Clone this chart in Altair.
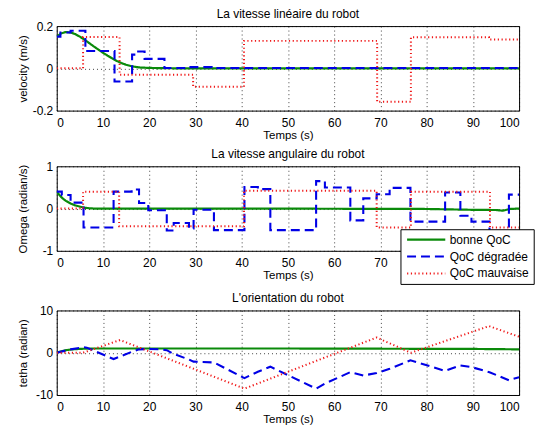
import altair as alt
import pandas as pd

SERIES = ["bonne QoC", "QoC dégradée", "QoC mauvaise"]
COLORS = ["#0a8a0a", "#0000e6", "#f01818"]
DASHES = [[1, 0], [9, 5], [1.2, 2.6]]
WIDTHS = [2.2, 2.0, 1.2]

X_TICKS = list(range(0, 101, 10))

# ---- Vitesse linéaire ----
v_green_t = [0, 1, 2, 3, 4, 5, 6, 7, 8, 9, 10, 11, 12, 13, 14, 15, 16, 17, 18, 20, 23, 26, 100]
v_green_v = [0.150, 0.166, 0.172, 0.170, 0.162, 0.150, 0.136, 0.120, 0.104, 0.089, 0.074, 0.060,
             0.047, 0.035, 0.025, 0.017, 0.011, 0.007, 0.004, 0.002, 0.001, 0.0, 0.0]
v_blue_t = [0, 0.8, 3.0, 6.2, 12.5, 16.3, 17.2, 19.0, 23.3, 28.5, 33.5, 100]
v_blue_v = [0.150, 0.170, 0.178, 0.082, -0.062, 0.065, 0.080, 0.045, 0.002, 0.006, 0.002, 0.002]
v_red_t = [0, 5.7, 13.6, 29.5, 40.5, 69.3, 76.6, 93.5, 100]
v_red_v = [0.0, 0.148, -0.030, -0.087, 0.130, -0.158, 0.147, 0.137, 0.137]

# ---- Vitesse angulaire ----
w_green_t = [0, 0.5, 1, 1.5, 2, 3, 4, 5, 6, 7, 8, 40, 60, 80, 85, 90, 95, 96.5, 98, 100]
w_green_v = [0.40, 0.33, 0.27, 0.22, 0.18, 0.12, 0.075, 0.045, 0.02, 0.008, 0.0, 0.0, -0.005,
             -0.01, -0.02, -0.03, -0.035, -0.05, -0.01, 0.0]
w_blue_t = [0, 1.1, 3.0, 5.8, 12.3, 16.2, 17.8, 19.8, 23.8, 25.3, 28.6, 29.6, 34.0, 40.6, 43.5,
            46.2, 56.1, 58.0, 63.5, 66.3, 69.2, 72.0, 76.5, 84.0, 87.3, 89.7, 93.6, 97.8, 100]
w_blue_v = [0.40, 0.32, 0.14, -0.45, 0.40, 0.45, 0.13, -0.04, -0.52, -0.34, -0.47, -0.03, -0.51,
            0.51, 0.46, -0.51, 0.65, 0.50, -0.28, 0.24, 0.34, 0.49, -0.31, 0.38, -0.17, -0.31,
            -0.55, 0.33, 0.33]
w_red_t = [0, 5.7, 13.5, 40.5, 69.2, 76.6, 93.7, 100]
w_red_v = [0.0, 0.40, -0.42, 0.42, -0.45, 0.40, -0.45, -0.45]

# ---- Orientation ----
th_green_t = [0, 1, 2, 3, 4, 6, 8, 50, 90, 100]
th_green_v = [0.0, 0.35, 0.6, 0.75, 0.85, 0.95, 1.0, 1.0, 0.9, 0.8]
th_blue_t = [0, 3, 5.8, 6.5, 12.3, 16.2, 17.8, 19.8, 22.5, 23.8, 25.3, 28.6, 29.6, 34, 40.6, 43.5,
             46.2, 56.1, 58, 63.5, 66.3, 69.2, 72, 76.5, 84, 87.3, 89.7, 93.6, 97.8, 100]
th_blue_v = [0.0, 0.8, 1.3, 1.2, -1.5, 0.2, 0.8, 0.9, 0.8, 0.6, -0.3, -1.6, -2.1, -2.3, -6.0, -4.5,
             -3.3, -8.5, -7.3, -4.6, -5.4, -4.8, -3.8, -1.8, -4.3, -3.0, -3.4, -4.6, -6.5, -5.8]
th_red_t = [0, 5.7, 13.7, 40.6, 69.2, 76.6, 93.5, 100]
th_red_v = [0.0, 0.0, 3.0, -8.5, 3.6, 0.0, 6.3, 3.8]

FONT = "Liberation Sans"
H = 85
LEG_FS = 12


def frame(ts, vs, name):
    return pd.DataFrame({"t": ts, "v": vs, "s": name})


def panel(title, ytitle, ydom, yticks, green, blue, red, step, legend):
    enc_x = alt.X("t:Q", scale=alt.Scale(domain=[0, 100], nice=False),
                  axis=alt.Axis(values=X_TICKS, title="Temps (s)"))
    enc_y = alt.Y("v:Q", scale=alt.Scale(domain=ydom, nice=False),
                  axis=alt.Axis(values=yticks, title=ytitle, labelExpr="datum.value + ''",
                                titleX=-28, titleY=H / 2, titleAngle=-90,
                                titleAlign="center", titleBaseline="bottom"))
    if legend is None:
        c = alt.Color("s:N", scale=alt.Scale(domain=SERIES, range=COLORS), legend=None)
        d = alt.StrokeDash("s:N", scale=alt.Scale(domain=SERIES, range=DASHES), legend=None)
        w = alt.StrokeWidth("s:N", scale=alt.Scale(domain=SERIES, range=WIDTHS), legend=None)
    else:
        c = alt.Color("s:N", scale=alt.Scale(domain=SERIES, range=COLORS), legend=legend)
        d = alt.StrokeDash("s:N", scale=alt.Scale(domain=SERIES, range=DASHES), legend=legend)
        w = alt.StrokeWidth("s:N", scale=alt.Scale(domain=SERIES, range=WIDTHS), legend=legend)
    interp = "step-after" if step else "linear"
    layers = []
    for df, ip in [(green, "linear"), (blue, interp), (red, interp)]:
        layers.append(
            alt.Chart(df).mark_line(interpolate=ip, clip=True).encode(
                x=enc_x, y=enc_y, color=c, strokeDash=d, strokeWidth=w
            )
        )
    return alt.layer(*layers).properties(
        width=465, height=H,
        title=alt.TitleParams(title, fontSize=12, fontWeight="normal", font=FONT,
                              offset=-0.5, color="black"),
    )


legend = alt.Legend(orient="none", legendX=345.7, legendY=63.3, title=None,
                    symbolType="M-1,0L9,0", symbolSize=59,
                    labelFontSize=LEG_FS, labelFont=FONT, labelColor="black",
                    padding=4.5, rowPadding=5, fillColor="white", strokeColor="black",
                    labelOffset=33, labelLimit=300)

p1 = panel("La vitesse linéaire du robot", "velocity (m/s)", [-0.2, 0.2], [-0.2, 0, 0.2],
           frame(v_green_t, v_green_v, SERIES[0]), frame(v_blue_t, v_blue_v, SERIES[1]),
           frame(v_red_t, v_red_v, SERIES[2]), True, None)
p2 = panel("La vitesse angulaire du robot", "Omega (radian/s)", [-1, 1], [-1, 0, 1],
           frame(w_green_t, w_green_v, SERIES[0]), frame(w_blue_t, w_blue_v, SERIES[1]),
           frame(w_red_t, w_red_v, SERIES[2]), True, legend)
p3 = panel("L'orientation du robot", "tetha (radian)", [-10, 10], [-10, 0, 10],
           frame(th_green_t, th_green_v, SERIES[0]), frame(th_blue_t, th_blue_v, SERIES[1]),
           frame(th_red_t, th_red_v, SERIES[2]), False, None)

chart = alt.vconcat(p1, p2, p3, spacing=6).resolve_legend(
    color="independent", strokeDash="independent", strokeWidth="independent"
).properties(
    padding={"left": 9, "top": -2, "right": 0, "bottom": 0},
    background="white",
).configure_view(
    stroke="black", strokeWidth=1
).configure_axis(
    grid=True, gridColor="black", gridDash=[1, 3], gridOpacity=0.75, gridWidth=1,
    tickSize=0, domain=False, labelFont=FONT, labelFontSize=12, labelColor="black",
    titleFont=FONT, titleFontSize=11.5, titleFontWeight="normal", titleColor="black",
).configure_axisX(
    labelPadding=7, titlePadding=1,
).configure_axisY(
    labelPadding=4, titlePadding=2, minExtent=26, maxExtent=26,
).configure_legend(
    labelFont=FONT, labelFontSize=LEG_FS, labelColor="black", labelLimit=300,
)

chart.save("out.html", embed_options={"renderer": "svg", "actions": False})
